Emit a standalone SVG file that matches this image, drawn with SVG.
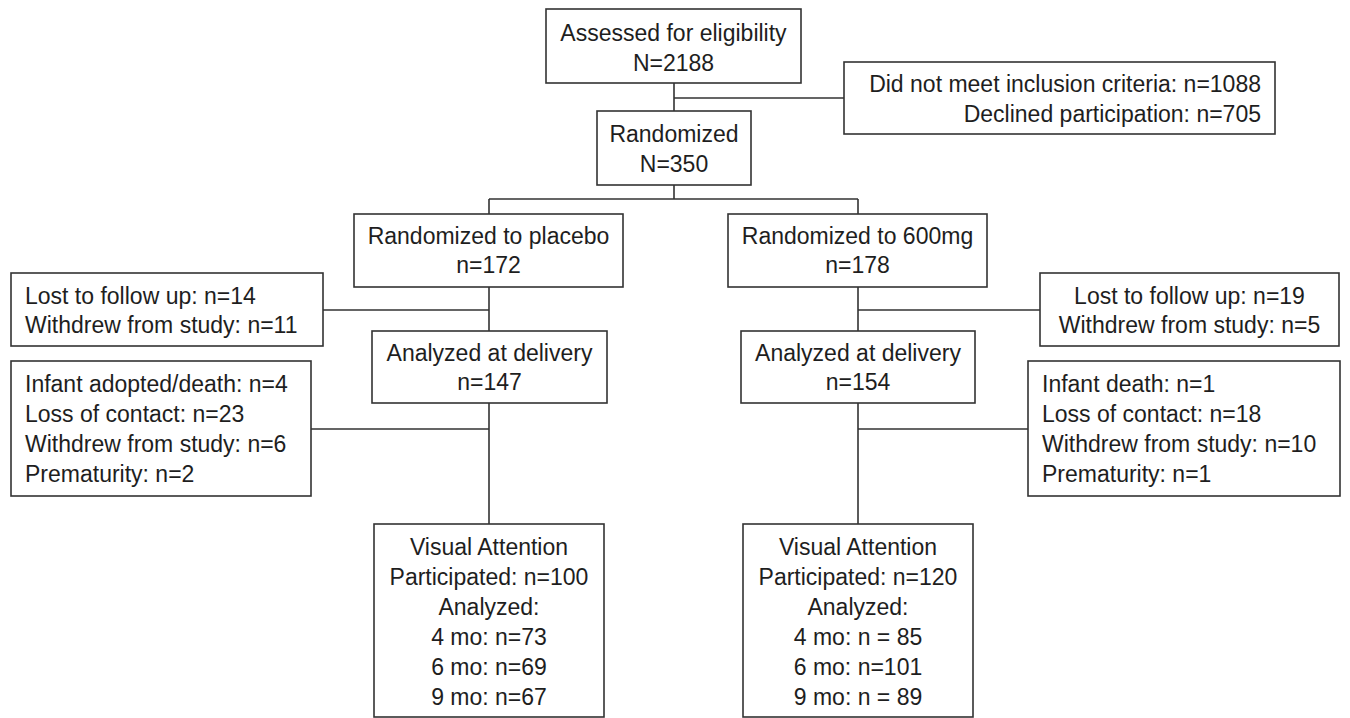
<svg xmlns="http://www.w3.org/2000/svg" width="1350" height="718" viewBox="0 0 1350 718">
<style>
.box{fill:#fff;stroke:#333;stroke-width:1.6}
.ln{fill:none;stroke:#333;stroke-width:1.6}
text{font-family:"Liberation Sans",Arial,sans-serif;font-size:23px;fill:#1e1e1e}
.c{text-anchor:middle}
.r{text-anchor:end}
</style>
<rect width="1350" height="718" fill="#fff"/>
<g id="connectors">
<path class="ln" d="M674 83V185M674 98H844"/>
<path class="ln" d="M674 185V199M489 199H858M489 199V214M858 199V214"/>
<path class="ln" d="M489 287V331M323 310H489"/>
<path class="ln" d="M858 287V331M858 310H1040"/>
<path class="ln" d="M489 403V524M311 429H489"/>
<path class="ln" d="M858 403V524M858 429H1028"/>
</g>
<g id="assessed">
<rect class="box" x="546" y="9" width="255" height="74"/>
<text class="c" x="673.5" y="41">Assessed for eligibility</text>
<text class="c" x="673.5" y="71">N=2188</text>
</g>
<g id="excluded">
<rect class="box" x="844" y="62" width="431" height="72"/>
<text class="r" x="1261" y="92">Did not meet inclusion criteria: n=1088</text>
<text class="r" x="1261" y="122">Declined participation: n=705</text>
</g>
<g id="randomized">
<rect class="box" x="597" y="111" width="154" height="74"/>
<text class="c" x="674" y="142">Randomized</text>
<text class="c" x="674" y="172">N=350</text>
</g>
<g id="placebo">
<rect class="box" x="354" y="214" width="269" height="73"/>
<text class="c" x="488.5" y="244">Randomized to placebo</text>
<text class="c" x="488.5" y="273">n=172</text>
</g>
<g id="dose600">
<rect class="box" x="728" y="214" width="259" height="73"/>
<text class="c" x="857.5" y="244">Randomized to 600mg</text>
<text class="c" x="857.5" y="273">n=178</text>
</g>
<g id="lost-placebo">
<rect class="box" x="11" y="273" width="312" height="73"/>
<text x="25" y="304">Lost to follow up: n=14</text>
<text x="25" y="333">Withdrew from study: n=11</text>
</g>
<g id="lost-600">
<rect class="box" x="1040" y="273" width="299" height="73"/>
<text class="c" x="1189.5" y="304">Lost to follow up: n=19</text>
<text class="c" x="1189.5" y="333">Withdrew from study: n=5</text>
</g>
<g id="delivery-placebo">
<rect class="box" x="372" y="331" width="235" height="72"/>
<text class="c" x="489.5" y="361">Analyzed at delivery</text>
<text class="c" x="489.5" y="390">n=147</text>
</g>
<g id="delivery-600">
<rect class="box" x="741" y="331" width="234" height="72"/>
<text class="c" x="858" y="361">Analyzed at delivery</text>
<text class="c" x="858" y="390">n=154</text>
</g>
<g id="attrition-placebo">
<rect class="box" x="11" y="361" width="300" height="135"/>
<text x="25" y="392">Infant adopted/death: n=4</text>
<text x="25" y="422">Loss of contact: n=23</text>
<text x="25" y="452">Withdrew from study: n=6</text>
<text x="25" y="482">Prematurity: n=2</text>
</g>
<g id="attrition-600">
<rect class="box" x="1028" y="361" width="312" height="135"/>
<text x="1042" y="392">Infant death: n=1</text>
<text x="1042" y="422">Loss of contact: n=18</text>
<text x="1042" y="452">Withdrew from study: n=10</text>
<text x="1042" y="482">Prematurity: n=1</text>
</g>
<g id="visual-placebo">
<rect class="box" x="374" y="524" width="230" height="193"/>
<text class="c" x="489" y="555">Visual Attention</text>
<text class="c" x="489" y="585">Participated: n=100</text>
<text class="c" x="489" y="615">Analyzed:</text>
<text class="c" x="489" y="645">4 mo: n=73</text>
<text class="c" x="489" y="675">6 mo: n=69</text>
<text class="c" x="489" y="705">9 mo: n=67</text>
</g>
<g id="visual-600">
<rect class="box" x="743" y="524" width="230" height="193"/>
<text class="c" x="858" y="555">Visual Attention</text>
<text class="c" x="858" y="585">Participated: n=120</text>
<text class="c" x="858" y="615">Analyzed:</text>
<text class="c" x="858" y="645">4 mo: n = 85</text>
<text class="c" x="858" y="675">6 mo: n=101</text>
<text class="c" x="858" y="705">9 mo: n = 89</text>
</g>
</svg>
